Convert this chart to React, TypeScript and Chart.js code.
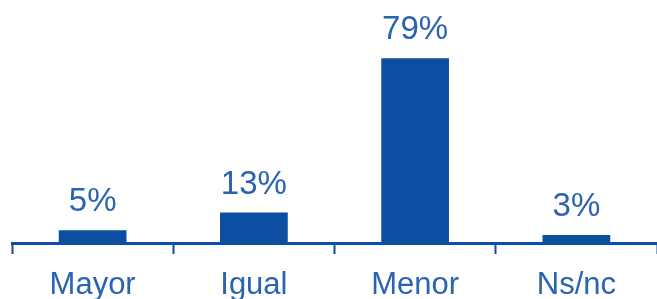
import React, { useEffect, useRef } from "react";
import { Chart, registerables } from "chart.js";

Chart.register(...registerables);

const categories = ["Mayor", "Igual", "Menor", "Ns/nc"];
const values = [5.5, 13, 79, 3.4];
const valueLabels = ["5%", "13%", "79%", "3%"];

const BAR = "#0b4ea2";
const TEXT = "#2a64b0";
const FONT = "'Liberation Sans', Arial, sans-serif";

const valueLabelPlugin = {
  id: "valueLabels",
  afterDatasetsDraw(chart: any) {
    const ctx = chart.ctx;
    const meta = chart.getDatasetMeta(0);
    ctx.save();
    ctx.fillStyle = TEXT;
    ctx.font = `33px ${FONT}`;
    ctx.textAlign = "center";
    ctx.textBaseline = "alphabetic";
    meta.data.forEach((bar: any, i: number) => {
      ctx.fillText(valueLabels[i], bar.x, bar.y - 19);
    });
    ctx.restore();
  },
};

export default function App() {
  const ref = useRef<HTMLCanvasElement | null>(null);
  useEffect(() => {
    if (!ref.current) return;
    const chart = new Chart(ref.current, {
      type: "bar",
      data: {
        labels: categories,
        datasets: [
          {
            data: values,
            backgroundColor: BAR,
            borderWidth: 0,
            categoryPercentage: 1,
            barPercentage: 0.42,
          },
        ],
      },
      options: {
        animation: false,
        responsive: false,
        layout: { padding: { left: 12, right: 0, top: 9, bottom: 0 } },
        plugins: { legend: { display: false }, tooltip: { enabled: false } },
        scales: {
          y: { display: false, min: 0, max: 100 },
          x: {
            offset: true,
            afterFit: (scale: any) => {
              scale.height = 56;
            },
            border: { display: true, color: BAR, width: 3 },
            grid: {
              offset: true,
              drawOnChartArea: false,
              drawTicks: true,
              tickLength: 11,
              tickWidth: 2,
              color: (c: any) => (c.index === categories.length ? "rgba(0,0,0,0)" : BAR),
            },
            ticks: {
              color: TEXT,
              padding: 13,
              font: { size: 31, family: FONT },
              maxRotation: 0,
            },
          },
        },
      },
      plugins: [valueLabelPlugin],
    });
    return () => chart.destroy();
  }, []);
  return (
    <div style={{ position: "absolute", left: 0, top: 0, width: 657, height: 299, background: "#fff" }}>
      <canvas ref={ref} width={657} height={299} />
    </div>
  );
}
